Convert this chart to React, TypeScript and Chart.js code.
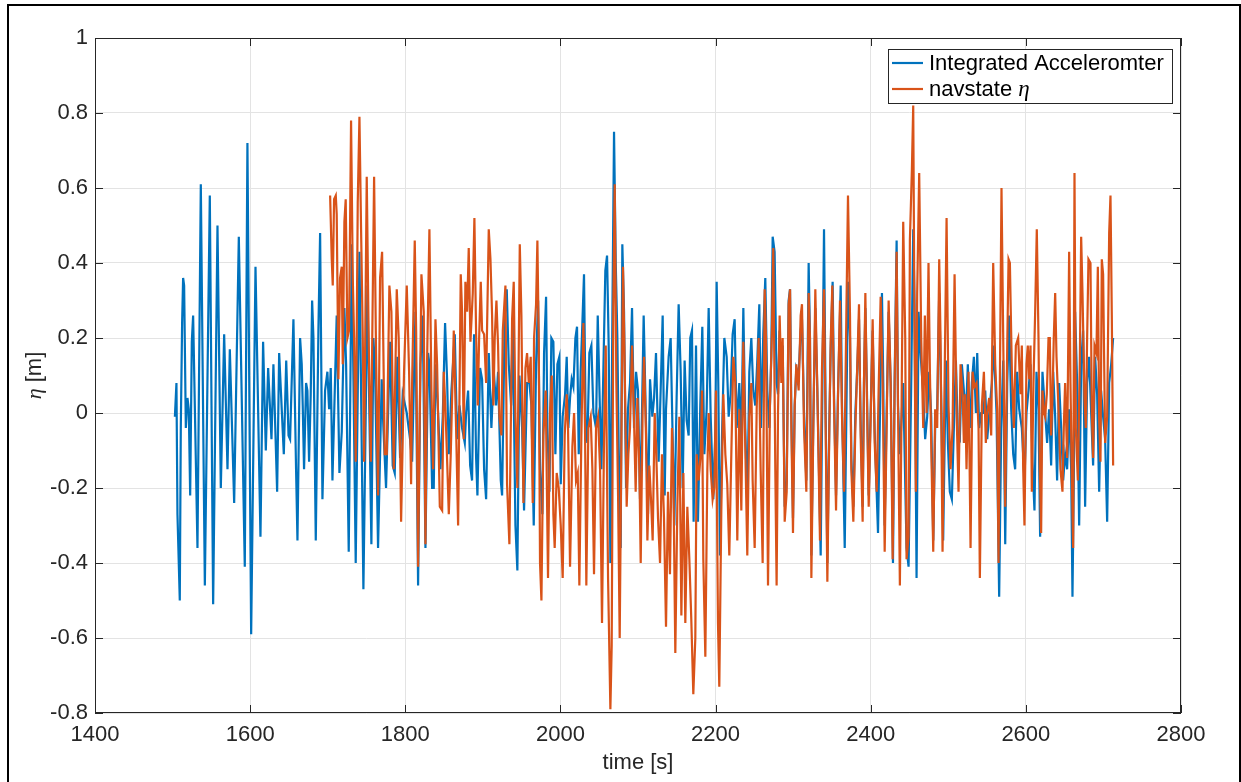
import React, { useEffect, useRef } from "react";
import { Chart, registerables } from "chart.js";

Chart.register(...registerables);

// ---- axis ticks ----
const xTickValues = [1400, 1600, 1800, 2000, 2200, 2400, 2600, 2800];
const yTickValues = [-0.8, -0.6, -0.4, -0.2, 0, 0.2, 0.4, 0.6, 0.8, 1];

// ---- series labels ----
const blueLabel = "Integrated Acceleromter";
const navLabelText = "navstate ";
const navLabelSymbol = "η";
const xTitle = "time [s]";

// ---- Integrated accelerometer (blue), time [s] ----
const blueTime = [
  1503.0, 1505.0, 1506.3, 1509.3, 1510.6, 1512.3, 1513.6, 1514.9, 1517.1, 1519.2, 1520.9, 1522.7, 1524.8, 1526.5, 1532.1, 1536.4, 1541.6, 1548.0, 1552.3, 1557.9, 1562.2, 1566.5, 1570.8, 1573.8, 1579.4, 1585.4, 1593.1, 1596.5, 1601.3, 1606.9, 1613.3, 1616.7, 1620.2, 1623.2, 1627.5, 1630.0, 1634.8, 1637.4, 1643.4, 1646.5, 1649.5,
  1651.5, 1655.8, 1659.2, 1661.0, 1664.4, 1666.5, 1667.8, 1669.5, 1672.1, 1673.8, 1676.0, 1678.1, 1679.9, 1681.6, 1684.6, 1688.0, 1690.2, 1693.2, 1696.6, 1699.6, 1701.8, 1703.9, 1706.1, 1708.6, 1711.6, 1715.1, 1718.1, 1721.5, 1723.7, 1727.1, 1731.0, 1736.1, 1740.9, 1746.0, 1751.2, 1756.3, 1758.9, 1761.1, 1764.9, 1769.6, 1771.8, 1775.2, 1780.4, 1783.8, 1786.4, 1789.8, 1793.3, 1796.7, 1801.9, 1806.2,
  1808.8, 1813.1, 1816.5, 1819.5, 1822.5, 1826.0, 1829.4, 1831.1, 1834.6, 1836.7, 1838.9, 1842.3, 1845.3, 1848.3, 1851.3, 1853.9, 1856.1, 1859.5, 1863.8, 1866.8, 1869.8, 1873.2, 1876.7, 1878.4, 1881.0, 1883.6, 1886.1, 1888.7, 1891.3, 1893.0, 1896.4, 1899.0, 1901.6, 1904.2, 1907.6, 1911.0, 1914.1, 1917.1, 1919.6, 1923.1, 1924.8, 1928.2, 1930.8, 1933.4, 1936.4, 1938.5, 1942.0, 1944.5, 1947.1, 1950.6, 1953.1, 1957.0, 1960.0, 1962.6, 1965.6,
  1968.6, 1971.2, 1973.7, 1976.7, 1978.9, 1981.5, 1983.2, 1985.8, 1988.3, 1990.9, 1993.5, 1996.1, 1998.6, 2000.4, 2002.9, 2006.0, 2008.1, 2010.2, 2012.4, 2014.5, 2016.7, 2019.3, 2021.4, 2023.6, 2026.1, 2028.3, 2030.4, 2032.6, 2034.7, 2037.3, 2039.9, 2042.5, 2045.9, 2048.1, 2050.2, 2052.8, 2055.4, 2057.9, 2060.1, 2062.2, 2064.4, 2067.0, 2069.1, 2071.3, 2073.4, 2075.1, 2077.7, 2079.8, 2082.0, 2084.6, 2087.1, 2089.7, 2092.3, 2094.9, 2097.5, 2100.0, 2102.6, 2104.8, 2107.3, 2109.9, 2112.9, 2115.5, 2118.5, 2120.7,
  2123.2, 2126.6, 2129.2, 2131.8, 2134.4, 2136.1, 2139.5, 2142.1, 2144.7, 2146.8, 2149.8, 2152.4, 2155.0, 2157.6, 2160.1, 2162.7, 2165.3, 2167.4, 2169.6, 2171.7, 2174.8, 2177.3, 2180.3, 2182.9, 2185.5, 2188.5, 2191.1, 2193.7, 2197.1, 2199.7, 2201.4, 2203.5, 2205.7, 2208.3, 2211.3, 2214.3, 2216.9, 2219.4, 2222.0, 2224.6, 2227.2, 2230.6, 2233.2, 2235.8, 2238.3, 2240.9, 2243.5, 2246.1, 2248.6, 2251.2, 2253.8, 2256.4, 2258.5, 2261.5, 2264.1, 2266.7, 2269.3, 2271.8, 2273.6, 2276.1, 2278.7,
  2280.5, 2282.6, 2284.8, 2286.5, 2289.1, 2291.7, 2294.2, 2296.0, 2297.7, 2299.8, 2302.0, 2304.1, 2307.1, 2309.7, 2311.4, 2314.0, 2317.0, 2320.0, 2321.7, 2323.5, 2326.0, 2328.6, 2331.2, 2335.5, 2339.8, 2341.9, 2344.1, 2346.7, 2348.4, 2350.9, 2352.7, 2355.3, 2357.8, 2361.3, 2363.0, 2366.5, 2370.7, 2373.3, 2375.0, 2377.6, 2380.2, 2382.7, 2384.9, 2387.0, 2389.6, 2391.3, 2393.1, 2394.8, 2397.4, 2399.9, 2402.5, 2405.1, 2409.4, 2414.5, 2416.2, 2418.0, 2420.5, 2423.1, 2425.7, 2428.7, 2430.9, 2433.4, 2435.2,
  2437.6, 2441.9, 2446.2, 2448.8, 2452.2, 2454.8, 2456.5, 2459.1, 2461.7, 2464.2, 2467.7, 2470.2, 2472.8, 2475.4, 2478.0, 2480.6, 2483.1, 2485.7, 2488.3, 2491.3, 2493.4, 2496.9, 2499.5, 2502.0, 2504.6, 2507.2, 2509.8, 2512.4, 2514.9, 2517.5, 2520.1, 2522.7, 2525.2, 2527.8, 2530.4, 2533.0, 2535.6, 2537.3, 2539.8, 2542.4, 2545.0, 2547.6, 2550.2, 2553.6, 2556.2, 2558.7, 2562.2, 2565.6, 2568.2, 2570.8, 2573.4, 2576.0, 2578.5, 2581.1, 2583.7, 2586.2, 2588.8, 2591.4,
  2594.8, 2598.2, 2600.8, 2603.4, 2606.0, 2608.5, 2611.1, 2613.7, 2616.3, 2618.4, 2621.4, 2624.9, 2627.4, 2630.0, 2632.6, 2635.2, 2637.8, 2640.3, 2642.9, 2645.5, 2648.1, 2650.6, 2653.2, 2655.8, 2658.4, 2660.1, 2661.8, 2663.5, 2666.1, 2668.7, 2671.3, 2673.8, 2676.4, 2679.0, 2681.6, 2684.2, 2686.7, 2689.3, 2691.9, 2694.5, 2697.0, 2699.6, 2702.2, 2704.8, 2707.4, 2710.0, 2712.5,
];

// ---- Integrated accelerometer (blue), eta [m] ----
const blueEta = [
  -0.01, 0.08, -0.27, -0.50, -0.04, 0.24, 0.36, 0.34, -0.04, 0.04, 0.01, -0.22, 0.19, 0.26, -0.36, 0.61, -0.46, 0.58, -0.51, 0.50, -0.20, 0.21, -0.15, 0.17, -0.24, 0.47, -0.41, 0.72, -0.59, 0.39, -0.33, 0.19, -0.10, 0.12, -0.07, 0.13, -0.21, 0.16, -0.11, 0.14, -0.06,
  -0.07, 0.25, -0.15, -0.34, 0.20, 0.13, 0.02, -0.15, 0.08, 0.06, -0.13, 0.05, 0.30, 0.20, -0.34, 0.22, 0.48, -0.23, 0.06, 0.11, 0.01, 0.12, -0.18, 0.02, 0.26, -0.16, -0.05, 0.28, 0.13, -0.37, 0.45, -0.40, 0.43, -0.47, 0.34, -0.35, 0.20, 0.11, -0.36, 0.09, -0.04, -0.20, 0.19, -0.14, -0.16, 0.15, -0.12, 0.05, 0.00, -0.07,
  -0.13, 0.27, -0.46, 0.13, 0.26, -0.36, 0.16, 0.13, -0.20, -0.20, 0.13, 0.00, -0.15, -0.01, 0.24, 0.09, -0.11, 0.06, 0.21, -0.07, 0.02, -0.04, -0.08, 0.00, 0.06, -0.14, -0.18, 0.21, -0.12, -0.22, 0.12, 0.09, -0.15, -0.23, 0.16, -0.04, 0.11, 0.02, 0.11, -0.18, -0.22, 0.26, 0.33, 0.13, 0.02, 0.25, -0.30, -0.42, 0.10, -0.04, -0.26, 0.08, 0.08, 0.02, -0.30,
  0.13, 0.30, -0.15, -0.27, 0.16, 0.31, -0.04, -0.21, 0.20, 0.19, -0.11, 0.13, 0.15, -0.19, -0.01, 0.05, 0.15, -0.04, 0.04, 0.09, 0.07, 0.20, 0.23, -0.11, 0.11, 0.24, 0.37, -0.04, -0.08, 0.16, 0.18, 0.00, -0.04, 0.26, 0.07, -0.15, 0.12, 0.38, 0.42, 0.18, -0.40, 0.26, 0.75, 0.40, 0.20, -0.09, -0.36, 0.45, 0.27, -0.20, 0.01, 0.08, 0.28, -0.04, 0.11, 0.06, -0.23, -0.04, 0.26, 0.01, -0.27, 0.09, -0.01, 0.04,
  0.16, -0.13, 0.06, 0.26, -0.22, 0.01, 0.15, 0.20, -0.07, -0.30, 0.04, 0.29, 0.11, -0.20, 0.14, -0.02, -0.06, 0.20, 0.22, -0.29, 0.18, -0.29, 0.02, 0.23, -0.11, 0.01, 0.28, -0.01, -0.23, -0.05, 0.35, 0.08, -0.38, -0.06, 0.20, 0.15, -0.01, 0.05, 0.21, 0.25, -0.04, 0.08, -0.08, 0.28, -0.04, -0.25, 0.11, 0.20, 0.06, 0.02, 0.14, 0.29, -0.04, 0.21, 0.36, 0.06, -0.04, 0.15, 0.47, 0.43, 0.08,
  0.05, 0.22, 0.10, 0.18, -0.25, -0.18, 0.30, 0.33, 0.00, -0.28, 0.02, 0.12, 0.10, 0.22, 0.25, 0.00, -0.18, 0.40, 0.20, -0.38, -0.02, 0.28, 0.06, -0.38, 0.49, 0.00, -0.40, -0.02, 0.17, 0.35, 0.05, -0.22, 0.05, 0.34, 0.02, -0.36, 0.35, 0.20, -0.12, -0.25, 0.00, 0.12, 0.25, -0.02, -0.25, 0.08, 0.28, 0.10, -0.22, 0.00, 0.22, -0.05, -0.32, 0.32, 0.08, -0.30, 0.00, 0.27, 0.08, -0.40, 0.10, 0.46, 0.02,
  -0.11, 0.08, -0.36, -0.41, 0.08, 0.49, 0.29, -0.44, 0.27, 0.16, 0.05, -0.07, -0.01, 0.11, -0.01, -0.34, -0.04, 0.01, 0.32, -0.01, -0.34, 0.14, -0.08, -0.21, -0.23, -0.04, 0.14, -0.06, -0.07, 0.13, 0.06, -0.01, 0.13, -0.04, 0.08, 0.15, 0.00, 0.16, -0.04, 0.00, 0.00, 0.06, -0.07, 0.02, 0.08, 0.18, 0.00, -0.49, -0.04, 0.14, -0.35, 0.08, 0.26, 0.01, -0.11, -0.15, 0.11, 0.01,
  -0.04, -0.18, 0.00, 0.06, 0.13, -0.13, -0.26, 0.11, 0.01, -0.33, 0.11, 0.00, -0.08, 0.01, -0.14, 0.11, -0.01, -0.18, 0.08, -0.04, -0.18, -0.11, -0.15, 0.01, -0.15, -0.49, -0.18, 0.27, 0.08, -0.30, 0.13, 0.22, -0.25, 0.08, 0.15, 0.00, -0.14, 0.15, 0.05, -0.21, 0.06, -0.01, -0.07, -0.29, 0.08, 0.13, 0.20,
];

// ---- navstate eta (orange), time [s] ----
const navTime = [
  1703.1, 1705.2, 1706.5, 1708.2, 1710.4, 1711.6, 1713.8, 1715.9, 1718.1, 1719.4, 1721.5, 1723.2, 1725.4, 1727.5, 1730.1, 1732.3, 1734.0, 1736.1, 1738.7, 1740.9, 1743.0, 1745.2, 1746.9, 1750.3, 1752.9, 1755.5, 1757.2, 1759.8, 1762.3, 1764.9, 1767.5, 1770.1, 1773.5, 1776.1, 1779.5, 1782.1, 1785.1, 1789.0, 1791.5, 1794.6, 1798.4, 1801.9, 1804.9, 1807.5,
  1808.8, 1812.2, 1814.0, 1816.5, 1818.3, 1820.8, 1823.8, 1826.0, 1828.1, 1831.1, 1833.7, 1835.9, 1838.9, 1841.0, 1844.5, 1847.5, 1849.6, 1851.8, 1854.3, 1856.1, 1858.6, 1862.5, 1865.5, 1868.1, 1871.5, 1873.2, 1875.4, 1877.5, 1879.7, 1881.8, 1884.0, 1887.0, 1889.1, 1891.3, 1893.4, 1895.2, 1897.3, 1899.0, 1901.6, 1904.2, 1907.6, 1909.8, 1911.9, 1913.6, 1915.3, 1917.5, 1919.6, 1921.4, 1923.9, 1925.7, 1929.1, 1931.2, 1934.2, 1937.7, 1939.8, 1942.0, 1944.5, 1947.6, 1949.7, 1952.3, 1954.9, 1957.0, 1959.2, 1961.7, 1964.3,
  1966.0, 1968.6, 1970.3, 1972.0, 1973.7, 1975.5, 1978.0, 1981.0, 1984.0, 1986.6, 1988.8, 1990.9, 1992.6, 1995.2, 1997.8, 2000.4, 2002.9, 2005.5, 2008.1, 2009.8, 2012.4, 2015.4, 2017.6, 2020.1, 2022.3, 2024.4, 2027.0, 2029.6, 2031.7, 2033.4, 2036.0, 2039.0, 2041.2, 2043.3, 2045.9, 2048.5, 2051.1, 2053.6, 2056.2, 2058.4, 2061.4, 2064.4, 2066.1, 2068.2, 2070.0, 2072.1, 2074.3, 2076.4, 2079.0, 2080.7, 2082.8, 2085.4, 2087.6, 2089.7, 2092.3, 2094.9, 2097.0, 2099.2, 2101.8, 2103.5, 2106.0, 2107.8, 2110.3, 2112.1, 2114.6, 2117.2, 2118.9, 2121.5,
  2123.2, 2125.8, 2128.4, 2130.9, 2133.5, 2136.1, 2138.7, 2141.2, 2143.8, 2145.5, 2148.1, 2150.7, 2153.3, 2155.9, 2158.5, 2161.0, 2163.6, 2166.2, 2168.7, 2171.3, 2173.9, 2175.6, 2178.2, 2180.8, 2182.5, 2184.2, 2186.8, 2189.4, 2191.1, 2193.7, 2196.2, 2198.4, 2200.5, 2203.1, 2204.8, 2207.4, 2210.0, 2212.6, 2215.1, 2217.7, 2220.3, 2222.9, 2225.4, 2228.0, 2230.6, 2233.2, 2235.8, 2238.3, 2240.9, 2243.5, 2246.1, 2247.8, 2250.4, 2253.0, 2255.5, 2258.1, 2260.7, 2263.3, 2265.0, 2267.6, 2270.1, 2272.7, 2274.4, 2277.0, 2278.7,
  2280.5, 2282.6, 2284.8, 2286.5, 2289.1, 2291.7, 2294.2, 2296.0, 2297.7, 2299.8, 2302.0, 2304.1, 2307.1, 2309.7, 2311.4, 2314.0, 2317.0, 2320.0, 2321.7, 2323.5, 2326.0, 2328.6, 2331.2, 2334.6, 2337.2, 2339.8, 2341.9, 2344.1, 2346.7, 2348.4, 2350.5, 2352.7, 2355.3, 2357.8, 2360.4, 2363.0, 2365.6, 2368.6, 2370.7, 2373.3, 2375.0, 2377.6, 2380.2, 2382.7, 2384.9, 2387.0, 2389.6, 2391.3, 2393.1, 2394.8, 2397.4, 2399.9, 2402.5, 2405.1, 2407.7, 2410.2, 2412.8, 2415.4, 2418.0, 2420.5, 2423.1, 2425.7, 2428.3, 2430.9, 2433.4, 2435.2,
  2437.6, 2439.7, 2441.9, 2444.5, 2446.2, 2448.8, 2450.5, 2453.1, 2454.8, 2456.5, 2458.2, 2459.9, 2462.5, 2465.1, 2467.7, 2469.8, 2472.0, 2474.5, 2476.3, 2478.4, 2480.6, 2483.1, 2485.7, 2488.3, 2490.0, 2492.6, 2495.2, 2497.8, 2500.3, 2502.9, 2505.5, 2508.1, 2510.6, 2513.2, 2515.8, 2518.4, 2520.1, 2521.8, 2523.5, 2526.1, 2528.7, 2531.3, 2533.8, 2536.4, 2539.0, 2540.7, 2543.3, 2545.9, 2548.4, 2550.2, 2552.7, 2555.3, 2557.9, 2560.5, 2563.0, 2564.8, 2566.5, 2568.6, 2570.8, 2573.4, 2576.0, 2577.7, 2579.4, 2582.0, 2584.5, 2587.1, 2590.1, 2593.1,
  2594.8, 2596.5, 2598.2, 2600.8, 2602.5, 2604.3, 2606.0, 2607.7, 2609.8, 2612.0, 2614.1, 2616.3, 2618.0, 2619.7, 2621.4, 2623.6, 2624.9, 2627.0, 2629.2, 2630.9, 2632.6, 2634.3, 2636.0, 2637.8, 2639.5, 2642.1, 2644.6, 2647.2, 2648.9, 2650.6, 2653.2, 2655.8, 2657.5, 2659.2, 2661.0, 2662.7, 2664.4, 2667.0, 2669.6, 2671.3, 2673.0, 2675.6, 2677.3, 2679.0, 2680.7, 2683.3, 2685.0, 2686.7, 2688.5, 2691.0, 2692.8, 2694.5, 2696.2, 2697.9, 2699.6, 2702.2, 2704.8, 2707.4, 2709.1, 2710.8, 2712.5,
];

// ---- navstate eta (orange), eta [m] ----
const navEta = [
  0.58, 0.41, 0.34, 0.57, 0.58, 0.53, 0.09, 0.36, 0.39, 0.13, 0.51, 0.57, 0.20, 0.22, 0.78, 0.36, 0.20, -0.13, 0.56, 0.79, 0.49, 0.20, -0.13, 0.63, 0.18, -0.13, 0.16, 0.63, 0.16, -0.22, 0.36, 0.43, -0.11, -0.11, 0.34, 0.27, -0.15, 0.33, 0.20, -0.29, 0.11, 0.34, 0.11, -0.19,
  0.08, 0.46, 0.22, -0.41, -0.07, 0.37, 0.27, -0.35, 0.14, 0.49, 0.06, -0.15, 0.25, 0.13, -0.25, -0.26, 0.11, 0.01, -0.15, -0.27, -0.11, 0.22, -0.04, -0.30, 0.37, 0.27, -0.07, 0.35, 0.27, 0.44, 0.19, 0.32, 0.52, 0.21, 0.02, 0.20, 0.35, 0.22, 0.21, 0.08, 0.49, 0.41, 0.26, 0.02, 0.20, 0.30, 0.18, -0.01, -0.06, 0.22, 0.34, -0.19, -0.35, 0.25, 0.35, -0.01, -0.20, 0.45, 0.26, -0.24, 0.12, 0.16, 0.08, 0.15, -0.24,
  0.20, 0.29, 0.46, 0.20, -0.40, -0.50, -0.06, 0.06, -0.44, 0.00, 0.10, -0.27, -0.36, -0.16, -0.20, -0.30, -0.44, -0.06, 0.05, -0.04, -0.41, -0.09, 0.00, -0.18, -0.16, -0.46, -0.06, 0.24, -0.04, -0.46, -0.04, -0.01, -0.15, -0.43, -0.04, -0.01, -0.15, -0.56, -0.07, 0.18, -0.44, -0.79, -0.62, 0.28, 0.61, 0.08, -0.22, -0.60, 0.02, 0.39, 0.13, -0.25, -0.11, -0.04, 0.18, -0.02, -0.21, 0.04, -0.15, -0.40, 0.01, 0.15, -0.06, -0.34, -0.14, -0.25, -0.34, 0.00,
  -0.08, -0.28, -0.40, -0.11, -0.28, -0.57, -0.21, -0.43, -0.04, -0.15, -0.64, -0.25, -0.01, -0.54, -0.16, -0.56, -0.25, -0.39, -0.55, -0.75, -0.60, -0.11, -0.18, -0.11, 0.06, -0.39, -0.65, -0.15, 0.00, -0.15, -0.23, -0.20, 0.06, -0.56, -0.73, -0.26, 0.05, -0.11, -0.19, -0.38, -0.11, 0.15, 0.08, -0.34, 0.01, -0.26, 0.19, -0.09, -0.38, -0.01, 0.08, -0.18, -0.36, 0.01, 0.20, -0.15, -0.40, 0.33, 0.20, -0.46, 0.02, 0.22, 0.44, -0.15, -0.46,
  0.00, 0.26, 0.08, 0.20, -0.29, -0.21, 0.29, 0.33, -0.04, -0.32, 0.02, 0.13, 0.06, 0.26, 0.29, -0.04, -0.21, 0.32, 0.20, -0.44, -0.04, 0.33, 0.06, -0.34, 0.12, 0.33, -0.04, -0.45, -0.04, 0.19, 0.34, 0.02, -0.26, 0.04, 0.30, -0.01, -0.21, 0.26, 0.58, 0.26, -0.15, -0.29, -0.04, 0.13, 0.29, -0.06, -0.29, 0.08, 0.32, 0.08, -0.25, -0.02, 0.25, -0.08, -0.21, 0.06, 0.31, 0.08, -0.37, -0.04, 0.30, 0.08, -0.39, 0.08, 0.43, 0.01,
  -0.46, 0.00, 0.51, 0.20, -0.39, -0.33, 0.46, 0.65, 0.82, 0.20, -0.21, 0.32, 0.64, 0.20, -0.04, 0.26, 0.00, 0.40, 0.11, -0.13, -0.37, 0.01, -0.04, 0.41, 0.20, -0.37, 0.08, 0.52, 0.02, -0.15, -0.04, 0.37, 0.01, -0.21, 0.13, 0.05, -0.08, 0.05, -0.15, 0.11, -0.36, 0.11, 0.07, 0.08, -0.04, -0.44, 0.02, 0.11, -0.08, 0.00, 0.04, -0.06, 0.40, 0.13, 0.01, -0.40, 0.08, 0.60, 0.20, -0.25, 0.18, 0.41, 0.40, 0.11, -0.04, 0.18, 0.20, 0.05,
  0.18, -0.14, -0.30, 0.13, 0.18, 0.09, 0.18, -0.21, 0.08, 0.27, 0.49, 0.20, -0.15, -0.32, 0.06, 0.00, -0.01, 0.05, 0.20, 0.20, -0.06, 0.04, 0.20, 0.32, 0.15, 0.01, -0.15, -0.21, -0.04, 0.08, -0.12, 0.43, 0.08, -0.16, -0.36, 0.64, -0.04, -0.18, 0.14, 0.47, 0.32, 0.04, -0.04, 0.20, 0.41, 0.40, 0.01, -0.12, 0.18, 0.16, 0.39, -0.01, -0.13, 0.41, 0.37, -0.08, -0.01, 0.48, 0.58, 0.26, -0.14,
];

const BLUE = "#0072BD";
const ORANGE = "#D95319";
const AXIS_COLOR = "#262626";
const FONT = '"Liberation Sans", Arial, Helvetica, sans-serif';

export default function App() {
  const canvasRef = useRef<HTMLCanvasElement>(null);

  useEffect(() => {
    const canvas = canvasRef.current;
    if (!canvas) return;

    const matlabDecor = {
      id: "matlabDecor",
      afterDatasetsDraw(chart: any) {
        const { ctx, chartArea, scales } = chart;
        const { left, right, top, bottom } = chartArea;
        ctx.save();
        ctx.strokeStyle = AXIS_COLOR;
        ctx.lineWidth = 1;
        ctx.strokeRect(Math.round(left) + 0.5, Math.round(top) + 0.5, Math.round(right - left) - 1, Math.round(bottom - top) - 1);
        const tl = 8;
        ctx.beginPath();
        xTickValues.forEach((v) => {
          const px = Math.round(scales.x.getPixelForValue(v)) + 0.5;
          ctx.moveTo(px, bottom);
          ctx.lineTo(px, bottom - tl);
          ctx.moveTo(px, top);
          ctx.lineTo(px, top + tl);
        });
        yTickValues.forEach((v) => {
          const py = Math.round(scales.y.getPixelForValue(v)) + 0.5;
          ctx.moveTo(left, py);
          ctx.lineTo(left + tl, py);
          ctx.moveTo(right, py);
          ctx.lineTo(right - tl, py);
        });
        ctx.stroke();

        // legend box
        const lx = 888, ly = 49, lw = 284, lh = 54;
        ctx.fillStyle = "#ffffff";
        ctx.fillRect(lx, ly, lw, lh);
        ctx.strokeStyle = AXIS_COLOR;
        ctx.strokeRect(lx + 0.5, ly + 0.5, lw, lh);
        const rows = [ly + 14, ly + 40];
        ctx.lineWidth = 2.2;
        ctx.strokeStyle = BLUE;
        ctx.beginPath();
        ctx.moveTo(892, rows[0]);
        ctx.lineTo(923, rows[0]);
        ctx.stroke();
        ctx.strokeStyle = ORANGE;
        ctx.beginPath();
        ctx.moveTo(892, rows[1]);
        ctx.lineTo(923, rows[1]);
        ctx.stroke();
        ctx.fillStyle = "#000000";
        ctx.textBaseline = "middle";
        ctx.textAlign = "left";
        ctx.font = `22px ${FONT}`;
        ctx.fillText(blueLabel, 929, rows[0] + 1);
        ctx.fillText(navLabelText, 929, rows[1] + 1);
        const w = ctx.measureText(navLabelText).width;
        ctx.font = `italic 23px "Liberation Serif", "DejaVu Serif", serif`;
        ctx.fillText(navLabelSymbol, 929 + w, rows[1] + 1);
        ctx.restore();
      },
      afterDraw(chart: any) {
        const { ctx, chartArea } = chart;
        const { left, right, top, bottom } = chartArea;
        ctx.save();
        ctx.fillStyle = AXIS_COLOR;
        ctx.textBaseline = "middle";
        ctx.textAlign = "center";
        ctx.font = `22px ${FONT}`;
        ctx.fillText(xTitle, (left + right) / 2, 763);

        ctx.translate(35, (top + bottom) / 2);
        ctx.rotate(-Math.PI / 2);
        ctx.font = `italic 22px "Liberation Serif", "DejaVu Serif", serif`;
        const wEta = ctx.measureText(navLabelSymbol).width;
        ctx.font = `22px ${FONT}`;
        const rest = " [m]";
        const wRest = ctx.measureText(rest).width;
        const start = -(wEta + wRest) / 2;
        ctx.textAlign = "left";
        ctx.font = `italic 22px "Liberation Serif", "DejaVu Serif", serif`;
        ctx.fillText(navLabelSymbol, start, 0);
        ctx.font = `22px ${FONT}`;
        ctx.fillText(rest, start + wEta, 0);
        ctx.restore();

        ctx.save();
        ctx.fillStyle = "#000000";
        ctx.fillRect(7, 4, 2, 778);
        ctx.fillRect(7, 4, 1234, 2);
        ctx.fillRect(1239, 4, 2, 778);
        ctx.restore();
      },
    };

    const chart = new Chart(canvas, {
      type: "line",
      data: {
        datasets: [
          {
            label: blueLabel,
            data: blueTime.map((t, i) => ({ x: t, y: blueEta[i] })),
            borderColor: BLUE,
            backgroundColor: BLUE,
            borderWidth: 2.2,
            pointRadius: 0,
            tension: 0,
            fill: false,
            order: 2,
          },
          {
            label: navLabelText + navLabelSymbol,
            data: navTime.map((t, i) => ({ x: t, y: navEta[i] })),
            borderColor: ORANGE,
            backgroundColor: ORANGE,
            borderWidth: 2.2,
            pointRadius: 0,
            tension: 0,
            fill: false,
            order: 1,
          },
        ],
      },
      options: {
        responsive: false,
        animation: false,
        devicePixelRatio: 1,
        layout: { padding: { left: 0, right: 60, top: 38, bottom: 0 } },
        plugins: { legend: { display: false }, tooltip: { enabled: false } },
        scales: {
          x: {
            type: "linear",
            min: 1400,
            max: 2800,
            afterBuildTicks: (axis: any) => {
              axis.ticks = xTickValues.map((v) => ({ value: v }));
            },
            afterFit: (axis: any) => {
              axis.height = 69;
            },
            ticks: {
              autoSkip: false,
              maxRotation: 0,
              padding: 9,
              color: AXIS_COLOR,
              font: { family: FONT, size: 22 },
              callback: (v: any) => String(v),
            },
            grid: { color: "#e3e3e3", drawTicks: false, lineWidth: 1 },
            border: { display: false },
          },
          y: {
            type: "linear",
            min: -0.8,
            max: 1,
            afterBuildTicks: (axis: any) => {
              axis.ticks = yTickValues.map((v) => ({ value: v }));
            },
            afterFit: (axis: any) => {
              axis.width = 95;
            },
            ticks: {
              autoSkip: false,
              padding: 7,
              color: AXIS_COLOR,
              font: { family: FONT, size: 22 },
              callback: (v: any) => {
                const s = Number(v).toFixed(1);
                return s === "1.0" ? "1" : s === "0.0" || s === "-0.0" ? "0" : s;
              },
            },
            grid: { color: "#e3e3e3", drawTicks: false, lineWidth: 1 },
            border: { display: false },
          },
        },
      },
      plugins: [matlabDecor],
    });

    return () => {
      chart.destroy();
    };
  }, []);

  return (
    <div style={{ position: "fixed", left: 0, top: 0, width: 1241, height: 782, background: "#ffffff" }}>
      <canvas ref={canvasRef} width={1241} height={782} style={{ display: "block" }} />
    </div>
  );
}
